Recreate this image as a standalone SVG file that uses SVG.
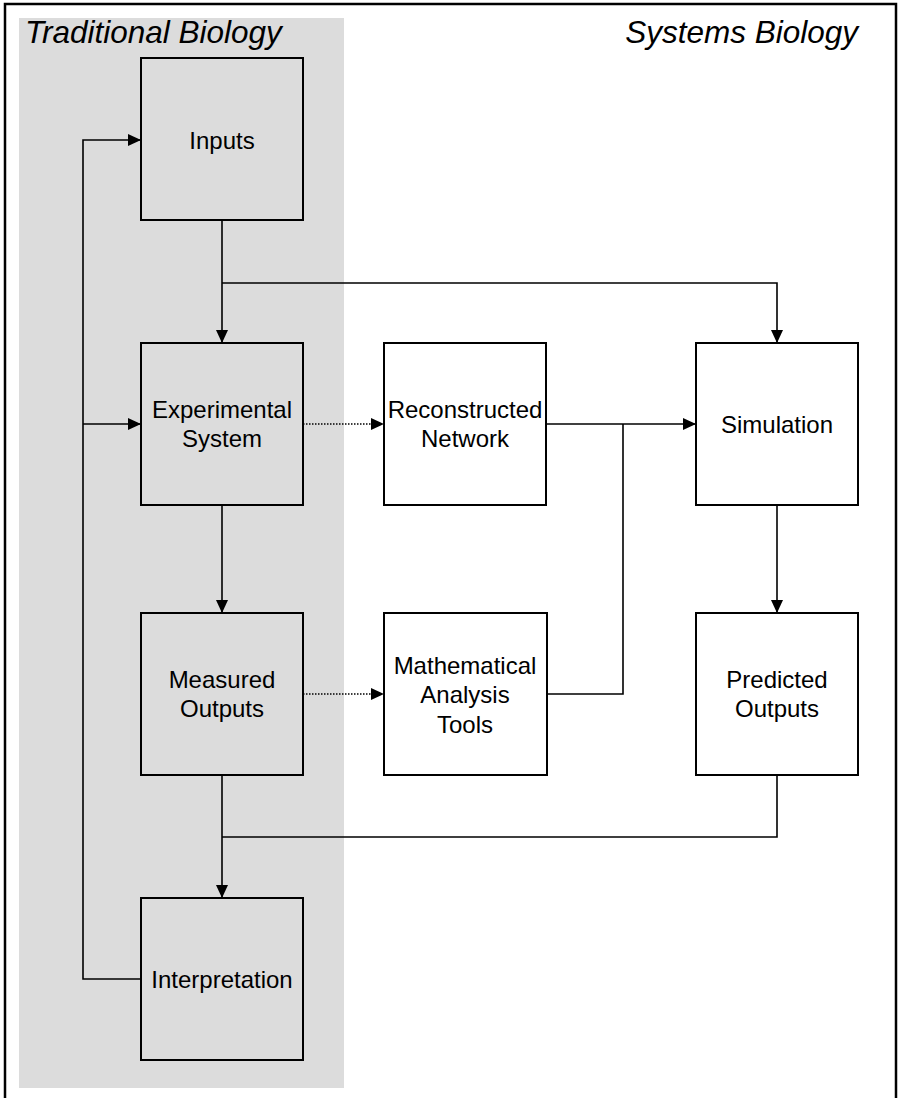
<svg xmlns="http://www.w3.org/2000/svg" width="899" height="1098" viewBox="0 0 899 1098">
<style>
.box{stroke:#000;stroke-width:2;}
.g{fill:#dcdcdc;}
.w{fill:#fff;}
.lbl{font-family:"Liberation Sans",Arial,sans-serif;font-size:24px;fill:#000;text-anchor:middle;}
.title{font-family:"Liberation Sans",Arial,sans-serif;font-size:31.5px;font-style:italic;fill:#000;}
.c{fill:none;stroke:#000;stroke-width:1.6;}
.d{fill:none;stroke:#000;stroke-width:1.4;stroke-dasharray:1.5 1.5;}
</style>
<defs>
<marker id="ah" viewBox="0 0 13 12" refX="13" refY="6" markerWidth="13" markerHeight="12" markerUnits="userSpaceOnUse" orient="auto">
<path d="M0,0 L13,6 L0,12 Z" fill="#000"/>
</marker>
</defs>
<rect x="0" y="0" width="899" height="1098" fill="#fff"/>
<rect x="5" y="4" width="891" height="1100" fill="#fff" stroke="#000" stroke-width="2.5"/>
<rect x="19" y="18" width="325" height="1070" fill="#dcdcdc"/>
<text class="title" x="25" y="43">Traditional Biology</text>
<text class="title" x="858" y="43" text-anchor="end">Systems Biology</text>
<g id="connectors">
<path class="c" d="M141,979 H83 V140 H141" marker-end="url(#ah)"/>
<path class="c" d="M83,424 H141" marker-end="url(#ah)"/>
<path class="c" d="M222,220 V343" marker-end="url(#ah)"/>
<path class="c" d="M222,283 H777 V343" marker-end="url(#ah)"/>
<path class="c" d="M222,505 V613" marker-end="url(#ah)"/>
<path class="c" d="M222,775 V898" marker-end="url(#ah)"/>
<path class="c" d="M777,775 V837 H222"/>
<path class="c" d="M777,505 V613" marker-end="url(#ah)"/>
<path class="c" d="M546,424 H696" marker-end="url(#ah)"/>
<path class="c" d="M547,694 H623 V424"/>
<path class="d" d="M303,424 H371"/>
<path d="M371,418 L384,424 L371,430 Z" fill="#000"/>
<path class="d" d="M303,694 H371"/>
<path d="M371,688 L384,694 L371,700 Z" fill="#000"/>
</g>
<g id="inputs"><rect class="box g" x="141" y="58" width="162" height="162"/><text class="lbl" x="222" y="149">Inputs</text></g>
<g id="experimental"><rect class="box g" x="141" y="343" width="162" height="162"/><text class="lbl" x="222" y="418">Experimental</text><text class="lbl" x="222" y="447">System</text></g>
<g id="measured"><rect class="box g" x="141" y="613" width="162" height="162"/><text class="lbl" x="222" y="688">Measured</text><text class="lbl" x="222" y="717">Outputs</text></g>
<g id="interpretation"><rect class="box g" x="141" y="898" width="162" height="162"/><text class="lbl" x="222" y="988">Interpretation</text></g>
<g id="reconstructed"><rect class="box w" x="384" y="343" width="162" height="162"/><text class="lbl" x="465" y="418">Reconstructed</text><text class="lbl" x="465" y="447">Network</text></g>
<g id="math"><rect class="box w" x="384" y="613" width="163" height="162"/><text class="lbl" x="465" y="674">Mathematical</text><text class="lbl" x="465" y="703">Analysis</text><text class="lbl" x="465" y="733">Tools</text></g>
<g id="simulation"><rect class="box w" x="696" y="343" width="162" height="162"/><text class="lbl" x="777" y="433">Simulation</text></g>
<g id="predicted"><rect class="box w" x="696" y="613" width="162" height="162"/><text class="lbl" x="777" y="688">Predicted</text><text class="lbl" x="777" y="717">Outputs</text></g>
</svg>
